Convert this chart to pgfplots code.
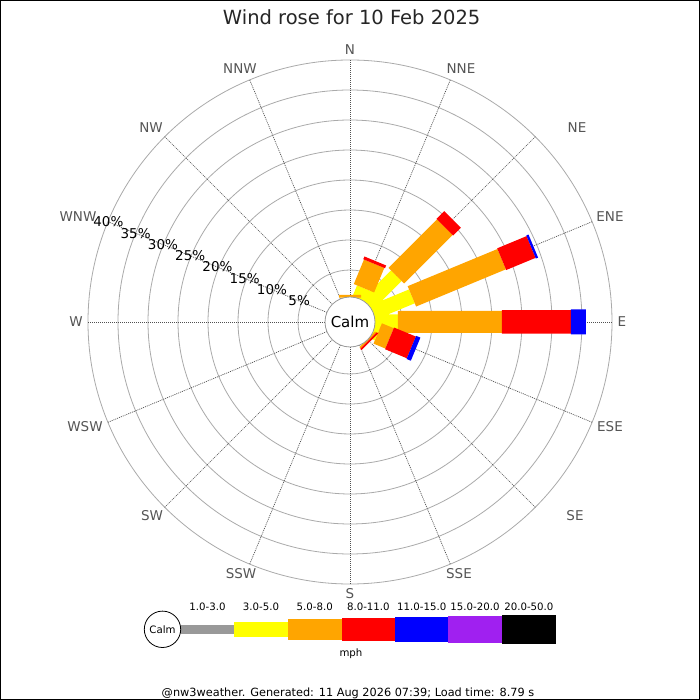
\documentclass[border=0pt]{standalone}
\usepackage{fontspec}
\setmainfont{DejaVu Sans}
\usepackage{pgfplots}
\usepackage{pgfplotstable}
\pgfplotsset{compat=1.18}
\definecolor{wyel}{RGB}{255,255,0}
\definecolor{wora}{RGB}{255,165,0}
\definecolor{wred}{RGB}{255,0,0}
\definecolor{wblu}{RGB}{0,0,255}
\definecolor{wpur}{RGB}{160,32,240}
\definecolor{wgry}{RGB}{153,153,153}
\definecolor{ringc}{RGB}{170,170,170}
\definecolor{spokec}{RGB}{80,80,80}
\definecolor{lblc}{RGB}{85,85,85}
% compass direction (deg) and cumulative percentage: start and end of each segment
\pgfplotstableread{
dir p
0 0
0 0.40
0 nan
22.5 0
22.5 2.42
0 nan
45 0
45 7.25
0 nan
67.5 0
67.5 7.50
0 nan
90 0
90 4.33
0 nan
112.5 0
112.5 1.33
0 nan
135 0
135 0.40
}\segY
\pgfplotstableread{
dir p
0 0.40
0 0.85
0 nan
22.5 2.42
22.5 6.84
0 nan
45 7.25
45 18.67
0 nan
67.5 7.50
67.5 23.70
0 nan
90 4.33
90 21.66
0 nan
112.5 1.33
112.5 3.47
0 nan
135 0.40
135 0.70
}\segO
\pgfplotstableread{
dir p
22.5 6.84
22.5 7.34
0 nan
45 18.67
45 20.50
0 nan
67.5 23.70
67.5 29.00
0 nan
90 21.66
90 33.16
0 nan
112.5 3.47
112.5 7.40
0 nan
135 0.70
135 1.00
}\segR
\pgfplotstableread{
dir p
67.5 29.00
67.5 29.40
0 nan
90 33.16
90 35.66
0 nan
112.5 7.40
112.5 8.17
}\segB
\newcommand{\fs}[1]{\fontsize{#1}{#1}\selectfont}
\begin{document}
\begin{tikzpicture}
\fill[white] (-350pt,-378pt) rectangle (350pt,322pt);
% rings
\foreach \r in {52,82,112,142,172,202,232,262} {
  \draw[ringc, line width=0.8pt] (0,0) circle[radius=\r pt];
}
% spokes
\foreach \a in {90,67.5,45,22.5,0,-22.5,-45,-67.5,-90,-112.5,-135,-157.5,180,157.5,135,112.5} {
  \draw[spokec, line width=0.7pt, dash pattern=on 1pt off 1pt] (\a:25pt) -- (\a:262pt);
}
\begin{axis}[anchor=origin, at={(0,0)}, scale only axis, width=700pt, height=700pt,
  xmin=-350, xmax=350, ymin=-378, ymax=322, hide axis, clip=false,
  unbounded coords=jump,
  every axis plot/.append style={line cap=butt},
  table/x expr={(22+6*\thisrow{p})*sin(\thisrow{dir})},
  table/y expr={(22+6*\thisrow{p})*cos(\thisrow{dir})}]
\addplot[draw=wyel, line width=15pt] table {\segY};
\addplot[draw=wora, line width=22pt] table {\segO};
\addplot[draw=wred, line width=23.5pt] table {\segR};
\addplot[draw=wblu, line width=25pt] table {\segB};
\end{axis}
% calm circle
\draw[wgry, fill=white, line width=0.8pt] (0,0) circle[radius=25pt];
\node[font=\fs{15}] at (0,0) {Calm};
% percentage labels
\begin{scope}[every node/.style={font=\fs{13.5}, inner sep=0pt}]
\node at (157.5:55pt) {5\%};
\node at (157.5:84.5pt) {10\%};
\node at (157.5:114pt) {15\%};
\node at (157.5:143.5pt) {20\%};
\node at (157.5:173pt) {25\%};
\node at (157.5:202.5pt) {30\%};
\node at (157.5:232pt) {35\%};
\node at (157.5:261.5pt) {40\%};
\end{scope}
% direction labels
\begin{scope}[every node/.style={font=\fs{13.5}, text=lblc, inner sep=0pt}]
\node at (0pt,272pt) {N};
\node at (111pt,253pt) {NNE};
\node at (227pt,194pt) {NE};
\node at (260pt,105pt) {ENE};
\node at (272pt,0pt) {E};
\node at (260pt,-105pt) {ESE};
\node at (225pt,-194pt) {SE};
\node at (109pt,-252pt) {SSE};
\node at (0pt,-272pt) {S};
\node at (-109pt,-252pt) {SSW};
\node at (-198pt,-194pt) {SW};
\node at (-265pt,-105pt) {WSW};
\node at (-274pt,0pt) {W};
\node at (-272pt,105pt) {WNW};
\node at (-199pt,194pt) {NW};
\node at (-110pt,253pt) {NNW};
\end{scope}
% title
\node[font=\fs{19.5}, anchor=base, inner sep=0pt, text=black!85] at (1.7pt,297pt) {Wind rose for 10 Feb 2025};
% legend
\fill[wgry] (-169.3pt,-303.1pt) rectangle (-115.7pt,-311.5pt);
\fill[wyel] (-115.7pt,-299.8pt) rectangle (-62.3pt,-314.8pt);
\fill[wora] (-62.3pt,-297.1pt) rectangle (-8.3pt,-317.5pt);
\fill[wred] (-8.3pt,-295.8pt) rectangle (45pt,-318.8pt);
\fill[wblu] (45pt,-294.8pt) rectangle (98.3pt,-319.8pt);
\fill[wpur] (98.3pt,-293.8pt) rectangle (151.7pt,-320.8pt);
\fill[black] (151.7pt,-293.1pt) rectangle (206pt,-321.5pt);
\draw[black, fill=white, line width=0.8pt] (-187.5pt,-307.3pt) circle[radius=18.2pt];
\node[font=\fs{10.2}] at (-187.5pt,-307.3pt) {Calm};
\begin{scope}[every node/.style={font=\fs{10.2}, inner sep=0pt}]
\node at (-142.5pt,-284.7pt) {1.0-3.0};
\node at (-89pt,-284.7pt) {3.0-5.0};
\node at (-35.3pt,-284.7pt) {5.0-8.0};
\node at (18.4pt,-284.7pt) {8.0-11.0};
\node at (71.7pt,-284.7pt) {11.0-15.0};
\node at (125pt,-284.7pt) {15.0-20.0};
\node at (178.9pt,-284.7pt) {20.0-50.0};
\node at (1pt,-331.3pt) {mph};
\end{scope}
\node[font=\fs{11.3}, anchor=base, inner sep=0pt] at (-2pt,-374.5pt) {@nw3weather. Generated: 11 Aug 2026 07:39; Load time: 8.79 s};
% border
\draw[black, line width=1pt] (-349.5pt,-377.5pt) rectangle (349.5pt,321.5pt);
\end{tikzpicture}
\end{document}
